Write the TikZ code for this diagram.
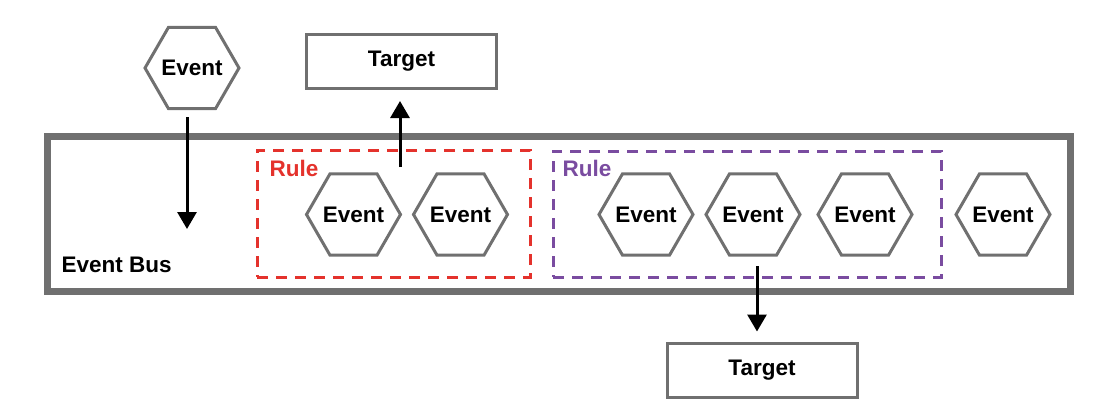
\documentclass[tikz,border=0pt]{standalone}
\usepackage{fontspec}
\setmainfont{Liberation Sans}
\usetikzlibrary{shapes.geometric,arrows.meta}
\definecolor{bordergray}{RGB}{112,112,112}
\definecolor{rulered}{RGB}{228,50,44}
\definecolor{rulepurple}{RGB}{122,76,160}
\tikzset{
  txt/.style={font=\fontsize{22.5}{26}\selectfont\bfseries, text=black},
  eventhex/.style={regular polygon, regular polygon sides=6, minimum size=94pt, inner sep=-12pt, draw=bordergray, line width=3pt, fill=white, txt},
  targetbox/.style={rectangle, draw=bordergray, line width=3pt, fill=white, minimum width=190pt, minimum height=54pt, inner sep=0pt, txt},
  rulebox/.style={rectangle, draw, dash pattern=on 11pt off 8pt, line width=3pt, inner sep=0pt},
  flow/.style={line width=3pt, draw=black, -{Triangle[width=19pt,length=17pt]}},
}
\begin{document}
\begin{tikzpicture}[x=1pt,y=-1pt]
\useasboundingbox (0,0) rectangle (1117,418);
% event bus
\node[rectangle, draw=bordergray, line width=7pt, minimum width=1023pt, minimum height=155pt, inner sep=0pt] (bus) at (558.5,213.75) {};
\node[txt, anchor=west] (buslabel) at (58,265) {Event Bus};
% rules
\node[rulebox, draw=rulered, minimum width=273pt, minimum height=127pt] (rule1) at (393.5,213.5) {};
\node[rulebox, draw=rulepurple, minimum width=388pt, minimum height=126pt] (rule2) at (747,214) {};
\node[txt, text=rulered, anchor=west] (rl1) at (266,168) {Rule};
\node[txt, text=rulepurple, anchor=west] (rl2) at (559,168) {Rule};
% events
\node[eventhex] (ev0) at (192,68) {Event};
\node[eventhex] (ev1) at (353.5,214.5) {Event};
\node[eventhex] (ev2) at (460.5,214.5) {Event};
\node[eventhex] (ev3) at (646,214.5) {Event};
\node[eventhex] (ev4) at (753,214.5) {Event};
\node[eventhex] (ev5) at (865,214.5) {Event};
\node[eventhex] (ev6) at (1003,214.5) {Event};
% targets
\node[targetbox] (tgt1) at (401.5,61.5) {Target};
\node[targetbox] (tgt2) at (762,370) {Target};
% connectors
\coordinate (a1s) at (187,117);
\coordinate (a1e) at (187,229);
\coordinate (a2s) at (400,167);
\coordinate (a3s) at (757,266);
\draw[flow] (a1s) -- (a1e);
\draw[flow, shorten >=11pt] (a2s) -- (a2s |- tgt1.south);
\draw[flow, shorten >=10pt] (a3s) -- (a3s |- tgt2.north);
\end{tikzpicture}
\end{document}
